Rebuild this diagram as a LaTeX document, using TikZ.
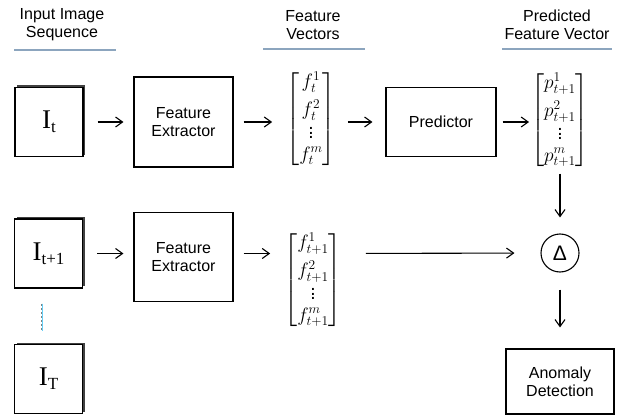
\documentclass[tikz,border=0pt]{standalone}
\usepackage{amsmath}
\usepackage{graphicx}
\usepackage{fontspec}
\setmainfont{Liberation Sans}
\newfontfamily\tms{Liberation Serif}
\usetikzlibrary{arrows.meta,shadows}
\definecolor{uline}{RGB}{140,165,190}
\tikzset{
  txt/.style={font=\fontsize{16}{18}\selectfont, align=center},
  hdr/.style={txt, inner sep=0pt},
  uln/.style={draw=uline, line width=1.8pt},
  blk/.style={draw, line width=1.1pt, fill=white, txt, inner sep=0pt},
  imgbox/.style={draw, line width=1.1pt, fill=white, inner sep=0pt,
     minimum width=68pt, minimum height=69pt,
     drop shadow={shadow xshift=2pt, shadow yshift=2pt, fill=black!75, opacity=1}},
  vec/.style={inner sep=0pt, font=\LARGE},
  arr/.style={-{Straight Barb[length=7pt,width=10pt]}, line width=1.1pt},
  dotline/.style={draw=gray, line width=2pt, dash pattern=on 2pt off 2pt},
}
\newcommand{\imgtxt}[2]{{\tms\fontsize{27}{30}\selectfont I\raisebox{-4pt}{\fontsize{17}{18}\selectfont #2}}}
\newcommand{\vstack}[4]{\scalebox{1.12}{$\begin{bmatrix} #1\\[3pt] #2\\[-2pt] #3\\[-3pt] #4\end{bmatrix}$}}
\begin{document}
\begin{tikzpicture}[x=1pt,y=-1pt]
\useasboundingbox (0,0) rectangle (629,417);
% headers
\node[hdr] (h1) at (62,25) {Input Image\\Sequence};
\draw[uln] (h1.south) ++(-48,9) coordinate (u1a) -- ++(102,0) coordinate (u1b);
\node[hdr] (h2) at (313,25) {Feature\\Vectors};
\draw[uln] (h2.south) ++(-50,9) coordinate (u2a) -- ++(102,0) coordinate (u2b);
\node[hdr] (h3) at (557,25) {Predicted\\Feature Vector};
\draw[uln] (h3.south) ++(-55,9) coordinate (u3a) -- ++(110,0) coordinate (u3b);
% row 1
\node[imgbox] (It) at (49,122) {\imgtxt{I}{t}};
\node[blk, minimum width=99pt, minimum height=90pt] (fe1) at (183.5,122) {Feature\\Extractor};
\node[vec] (v1) at (311,119) {\vstack{f_t^1}{f_t^2}{\vdots}{f_t^m}};
\node[blk, minimum width=110pt, minimum height=69pt] (pred) at (441,122) {Predictor};
\node[vec] (vp) at (560,120) {\vstack{p_{t+1}^1}{p_{t+1}^2}{\vdots}{p_{t+1}^m}};
% row 2
\node[imgbox] (It1) at (48.5,253.5) {\imgtxt{I}{t+1}};
\node[blk, minimum width=99pt, minimum height=89pt] (fe2) at (183.5,257) {Feature\\Extractor};
\node[vec] (v2) at (313,280) {\vstack{f_{t+1}^1}{f_{t+1}^2}{\vdots}{f_{t+1}^m}};
\node[draw, circle, line width=1.1pt, minimum size=38pt, inner sep=0pt, font=\fontsize{21}{22}\selectfont] (delta) at (560,253) {Δ};
\node[blk, minimum width=108pt, minimum height=65pt] (anom) at (560,381.5) {Anomaly\\Detection};
\node[imgbox] (IT) at (48.5,379) {\imgtxt{I}{T}};
% connectors
\draw[arr, shorten <=14pt, shorten >=10pt] (It.east) -- (It.east -| fe1.west);
\draw[arr, shorten <=10pt, shorten >=14pt] (It.east -| fe1.east) -- (It.east -| v1.west);
\draw[arr, shorten <=12pt, shorten >=13pt] (It.east -| v1.east) -- (It.east -| pred.west);
\draw[arr, shorten <=6pt, shorten >=2pt] (pred.east) -- (pred.east -| vp.west);
\draw[arr, shorten <=5pt, shorten >=16pt] (vp.south) -- (delta.north);
\draw[arr, shorten <=17pt, shorten >=21pt] (delta.south) -- (anom.north);
\draw[arr, shorten <=14pt, shorten >=10pt] (It1.east) -- (It1.east -| fe2.west);
\draw[arr, shorten <=10pt, shorten >=14pt] (It1.east -| fe2.east) -- (It1.east -| v2.west);
\draw[arr, shorten <=24pt, shorten >=26pt] (It1.east -| v2.east) -- (delta.west);
\draw[dotline] ([xshift=-6.5pt]It1.south) ++(0,15) coordinate (d1) -- ++(0,27) coordinate (d2);
\draw[cyan!60, line width=0.6pt] (d1) -- (d2);
\end{tikzpicture}
\end{document}
